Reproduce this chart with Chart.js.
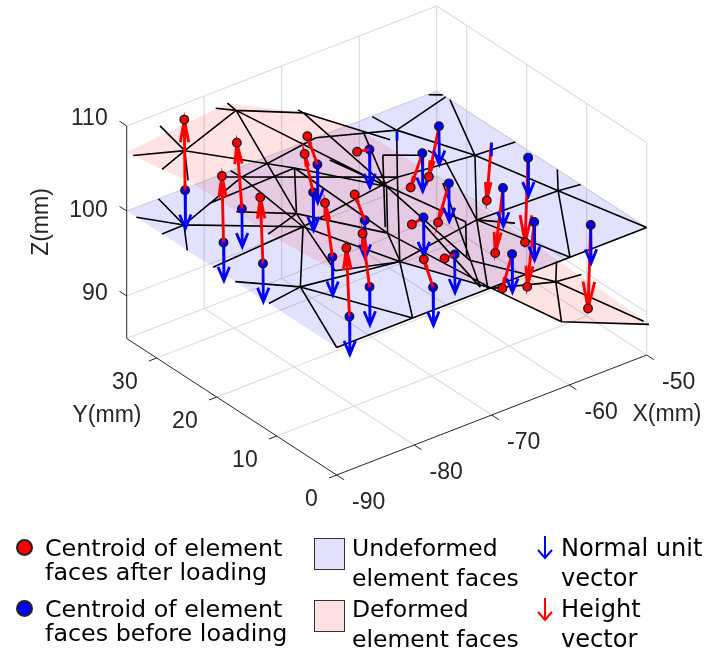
<!DOCTYPE html>
<html>
<head>
<meta charset="utf-8">
<title>Element faces before and after loading</title>
<script src="https://cdn.jsdelivr.net/npm/chart.js@4"></script>
<style>
    body { margin: 0; background: #fff; width: 705px; height: 655px; overflow: hidden; position: relative; }
    canvas { position: absolute; left: 0; top: 0; }
    .leg { position: absolute; font-family: "DejaVu Sans"; color: #000; line-height: 28px; height: 28px; white-space: nowrap; }
    .dot { position: absolute; width: 13px; height: 13px; border-radius: 50%; border: 2px solid #222; }
    .box { position: absolute; width: 29px; height: 30px; border: 1.5px solid #333; }
    svg { position: absolute; }
</style>
</head>
<body>
<canvas id="grafico" width="705" height="655"></canvas>

<div class="dot" style="left:16px;top:539px;background:#f00"></div>
<div class="leg" style="left:45px;top:534px;font-size:23.8px">Centroid of element</div>
<div class="leg" style="left:45px;top:558px;font-size:23.8px">faces after loading</div>
<div class="dot" style="left:16px;top:600px;background:#00f"></div>
<div class="leg" style="left:45px;top:595px;font-size:23.8px">Centroid of element</div>
<div class="leg" style="left:45px;top:619px;font-size:23.8px">faces before loading</div>

<div class="box" style="left:314px;top:538px;background:#e1e1fb"></div>
<div class="leg" style="left:352px;top:534px;font-size:23.5px">Undeformed</div>
<div class="leg" style="left:352px;top:564px;font-size:23.5px">element faces</div>
<div class="box" style="left:314px;top:600px;background:#fde1e1"></div>
<div class="leg" style="left:352px;top:595px;font-size:23.5px">Deformed</div>
<div class="leg" style="left:352px;top:625px;font-size:23.5px">element faces</div>

<svg style="left:535px;top:535px" width="20" height="26"><path d="M10 1V23M3 15L10 23L17 15" fill="none" stroke="#00f" stroke-width="2"/></svg>
<div class="leg" style="left:561px;top:534px;font-size:24.1px">Normal unit</div>
<div class="leg" style="left:561px;top:564px;font-size:24.1px">vector</div>
<svg style="left:535px;top:597px" width="20" height="26"><path d="M10 1V23M3 15L10 23L17 15" fill="none" stroke="#f00" stroke-width="2"/></svg>
<div class="leg" style="left:561px;top:595px;font-size:24.1px">Height</div>
<div class="leg" style="left:561px;top:625px;font-size:24.1px">vector</div>

<script>
// eixos (mm)
const xTicks = [-90, -80, -70, -60, -50];
const yTicks = [0, 10, 20, 30];
const zTicks = [90, 100, 110];
const xLimits = [-90, -50];
const yLimits = [0, 35];
const zLimits = [85, 110];

// centroides antes do carregamento (z = 100)
const beforeX = [-82.7, -80.4, -86.1, -85.5, -68.8, -72.6, -62.7, -71.9, -79.1, -79.8, -85.1, -54.2, -58.9, -60.5, -66.8, -68.9, -74.7, -50.9, -56.7, -58.4, -64.2, -54.2, -52];
const beforeY = [34.7, 28.2, 23.9, 18.1, 30.6, 26.4, 29.8, 18.7, 14.8, 7.7, 4.2, 29.2, 25.9, 19.4, 15.5, 7.6, 3.7, 18.6, 15.3, 7.9, 4.1, 3.9, 23.3];
const beforeZ = 100;
const visibleBefore = 22; // o ultimo fica escondido pela malha

// centroides depois do carregamento
const afterX = [-82.8, -81.05, -86.3, -85.85, -70.1, -73.7, -64.3, -73.2, -80.05, -80.7, -85.5, -55.5, -60.4, -61.9, -68.3, -70.2, -75.9, -51.3, -57.7, -59.3, -65.45, -54.55, -52.6];
const afterY = beforeY;
const afterZ = [108.35, 108, 107.9, 107.9, 103.8, 104.9, 100.3, 103.5, 106.7, 106.6, 108.2, 94.5, 96.5, 95.9, 99.7, 100, 103.7, 90.2, 92.7, 92.7, 96.4, 90.3, 93.4];

const normalLength = 4.5;

// pedacos de normais quase escondidos
const stubX = [-52, -58.3];
const stubY = [23.3, 30.9];
const stubZ = [98.4, 99];

// malha antes do carregamento
const nodesBeforeX = [-87.1, -90, -85.9, -90, -90, -76.5, -65.6, -77.7, -76.6, -78, -63.9, -90, -85.4, -74.2, -90, -80.2, -90, -90, -70.5, -59.9, -50, -62.8, -52.6, -50, -50, -58.1, -54.9, -50, -50, -50, -51.1, -50, -58.4, -60.1];
const nodesBeforeY = [29.2, 33.4, 35, 29.1, 24.9, 33.3, 35, 21.5, 35, 34.5, 23.6, 20.6, 12, 9.9, 16.9, 0, 11.3, 0, 0, 0, 0, 11.8, 11.4, 11, 14.9, 31.2, 22.3, 21.9, 32.8, 33.5, 34.9, 34, 34.9, 8.9];
const edgesBefore = [[0,1],[0,2],[0,3],[0,4],[0,5],[5,6],[0,7],[8,5],[5,7],[9,10],[11,7],[7,10],[7,12],[7,13],[14,12],[12,15],[16,12],[12,13],[12,17],[17,15],[15,18],[18,19],[19,20],[13,15],[13,21],[21,22],[22,23],[24,22],[22,19],[25,26],[26,22],[22,20],[10,26],[26,27],[28,26],[26,21],[21,18],[21,19],[25,29],[30,31],[32,25],[25,10],[10,13],[6,25],[21,33]];

// malha depois do carregamento
const nodesAfterX = [-87, -90.4, -85.7, -90, -89.9, -77.2, -78.9, -77, -67.2, -67.9, -78.8, -85.9, -90.2, -81.8, -70, -61, -49.7, -52.9, -49.9, -50.1, -50.4, -65.3, -74.3, -59.5, -59.1, -90.9, -89.8, -90.1, -70, -70.5, -61.6, -61.2, -72.9, -58.1, -59, -62.8, -63.3, -70.9, -61.6, -71.1, -70.1, -70];
const nodesAfterY = [29.2, 33.4, 35, 29.1, 24.9, 33.3, 34.5, 35, 35, 35, 21.5, 12, 0, 0, 0, 0, 0, 11.4, 11, 14.9, 0, 23.6, 11.8, 35, 31, 20, 17, 11.3, 0, 3, 29, 23, 14, 26, 22, 11.8, 13, 3, 19, 0.5, 11, 27];
const nodesAfterZ = [108.7, 107.4, 108.5, 107.6, 108.2, 108.1, 108.4, 108.1, 103.5, 104.1, 107.3, 108.8, 109.1, 107.2, 99.9, 92.8, 88.5, 89.4, 89.4, 89.2, 89.1, 99.4, 102.5, 98.6, 99.3, 108.1, 108.1, 108.2, 99.9, 102, 99.3, 101.9, 101.7, 100, 101, 100, 99.4, 102.4, 100.6, 100.2, 102.3, 102.6];
const edgesAfter = [[0,1],[0,2],[0,3],[0,4],[0,5],[0,10],[6,5],[7,5],[5,8],[5,11],[5,21],[9,8],[8,21],[8,24],[23,21],[10,11],[25,10],[10,21],[10,22],[26,11],[27,11],[11,22],[11,12],[12,13],[13,14],[14,15],[15,16],[15,17],[14,17],[19,17],[17,18],[17,20],[21,22],[22,13],[22,14],[21,29],[30,31],[30,32],[33,34],[34,35],[36,37],[38,39],[40,39],[41,36],[29,17]];

// contorno das faces deformadas
const outlineAfterX = [-90, -77, -67.2, -59.5, -50, -50, -49.7, -61, -70, -81.8, -90.2, -90.1, -89.8, -89.9, -90];
const outlineAfterY = [35, 35, 35, 35, 35, 0, 0, 0, 0, 0, 0, 11.3, 17, 24.9, 29.1];
const outlineAfterZ = [106.9, 108.1, 103.5, 98.6, 89.9, 88.9, 88.5, 92.8, 99.9, 107.2, 109.1, 108.2, 108.1, 108.2, 107.6];

// o Chart.js reserva essa folga por causa do tamanho dos pontos
const folga = 5.6;

// projecao 3D -> plano do grafico
function projetar(x, y, z) {
    return {
        x: 336.7 + (x + 90) * 7.75 - y * 6,
        y: 475 - (x + 90) * 3 - y * 3.9 - (z - 85) * 8.5
    };
}

function segmentos(lista) {
    const pontos = [];
    lista.forEach(seg => {
        pontos.push(projetar(...seg[0]), projetar(...seg[1]), { x: null, y: null });
    });
    return pontos;
}

function seta(de, para, fracao, largura) {
    const a = projetar(...de);
    const b = projetar(...para);
    const dx = b.x - a.x;
    const dy = b.y - a.y;
    const base = { x: b.x - dx * fracao, y: b.y - dy * fracao };
    // largura null: a cabeca estreita junto com o comprimento da seta
    const w = largura === null ? 0.07 * Math.hypot(dx, dy) / 84 : largura;
    return [
        a, b, { x: null, y: null },
        { x: base.x - dy * w, y: base.y + dx * w }, b,
        { x: base.x + dy * w, y: base.y - dx * w }, { x: null, y: null }
    ];
}

// grade cinza
const grade = [];
xTicks.slice(1, -1).forEach(x => {
    grade.push([[x, yLimits[0], zLimits[0]], [x, yLimits[1], zLimits[0]]]);
});
xTicks.slice(1).forEach(x => {
    grade.push([[x, yLimits[1], zLimits[0]], [x, yLimits[1], zLimits[1]]]);
});
yTicks.slice(1).forEach(y => {
    grade.push([[xLimits[0], y, zLimits[0]], [xLimits[1], y, zLimits[0]]]);
    grade.push([[xLimits[1], y, zLimits[0]], [xLimits[1], y, zLimits[1]]]);
});
grade.push([[xLimits[1], yLimits[0], zLimits[0]], [xLimits[1], yLimits[0], zLimits[1]]]);
zTicks.forEach(z => {
    grade.push([[xLimits[0], yLimits[1], z], [xLimits[1], yLimits[1], z]]);
    grade.push([[xLimits[1], yLimits[1], z], [xLimits[1], yLimits[0], z]]);
});
grade.push([[xLimits[0], yLimits[1], zLimits[0]], [xLimits[1], yLimits[1], zLimits[0]]]);
grade.push([[xLimits[1], yLimits[1], zLimits[0]], [xLimits[1], yLimits[0], zLimits[0]]]);

// eixos escuros
const eixos = [
    [[xLimits[0], yLimits[0], zLimits[0]], [xLimits[1], yLimits[0], zLimits[0]]],
    [[xLimits[0], yLimits[0], zLimits[0]], [xLimits[0], yLimits[1], zLimits[0]]],
    [[xLimits[0], yLimits[1], zLimits[0]], [xLimits[0], yLimits[1], zLimits[1]]]
];
xTicks.forEach(x => eixos.push([[x, yLimits[0], zLimits[0]], [x, yLimits[0] - 1.2, zLimits[0]]]));
yTicks.forEach(y => eixos.push([[xLimits[0], y, zLimits[0]], [xLimits[0] - 1, y, zLimits[0]]]));
zTicks.forEach(z => eixos.push([[xLimits[0], yLimits[1], z], [xLimits[0], yLimits[1] + 1.2, z]]));

const contornoAntes = [[-90, 0], [-50, 0], [-50, 35], [-90, 35], [-90, 0]].map(p => projetar(p[0], p[1], beforeZ));
const contornoDepois = outlineAfterX.map((x, i) => projetar(x, outlineAfterY[i], outlineAfterZ[i]));
contornoDepois.push(contornoDepois[0]);

const malhaAntes = edgesBefore.map(e => [
    [nodesBeforeX[e[0]], nodesBeforeY[e[0]], beforeZ],
    [nodesBeforeX[e[1]], nodesBeforeY[e[1]], beforeZ]
]);
const malhaDepois = edgesAfter.map(e => [
    [nodesAfterX[e[0]], nodesAfterY[e[0]], nodesAfterZ[e[0]]],
    [nodesAfterX[e[1]], nodesAfterY[e[1]], nodesAfterZ[e[1]]]
]);

// setas
const normais = [];
const alturasAcima = [];
const alturasAbaixo = [];
beforeX.forEach((x, i) => {
    const inicio = [x, beforeY[i], beforeZ];
    const fim = [afterX[i], afterY[i], afterZ[i]];
    const pontos = seta(inicio, fim, 0.32, null);
    (afterZ[i] >= beforeZ ? alturasAcima : alturasAbaixo).push(...pontos);
    if (i < visibleBefore) {
        normais.push(...seta(inicio, [x + 0.05, beforeY[i], beforeZ - normalLength], 0.36, 0.15));
    }
});
stubX.forEach((x, i) => {
    normais.push(projetar(x, stubY[i], beforeZ), projetar(x, stubY[i], stubZ[i]), { x: null, y: null });
});

const centrosAntes = beforeX.slice(0, visibleBefore).map((x, i) => projetar(x, beforeY[i], beforeZ));
const centrosDepois = afterX.map((x, i) => projetar(x, afterY[i], afterZ[i]));

function linha(data, cor, largura, order) {
    return { data, borderColor: cor, borderWidth: largura, showLine: true, pointRadius: 0, fill: false, order };
}
function superficie(data, cor, order) {
    return { data, backgroundColor: cor, borderWidth: 0, showLine: true, pointRadius: 0, fill: 'shape', order };
}
function pontos(data, cor, order) {
    return { data, backgroundColor: cor, borderColor: '#1a1a1a', borderWidth: 1.3, pointRadius: 4.3, showLine: false, order };
}

// textos dos eixos
const textosEixos = {
    id: 'textosEixos',
    afterDraw(chart) {
        const ctx = chart.ctx;
        ctx.save();
        ctx.fillStyle = '#262626';
        ctx.font = '23px "Liberation Sans"';
        ctx.textBaseline = 'middle';
        ctx.textAlign = 'center';
        xTicks.forEach(x => {
            const p = projetar(x, yLimits[0], zLimits[0]);
            ctx.fillText(String(x), p.x + 32, p.y + 28);
        });
        ctx.textAlign = 'right';
        yTicks.forEach(y => {
            const p = projetar(xLimits[0], y, zLimits[0]);
            ctx.fillText(String(y), p.x - 19, p.y + 25);
        });
        const ajusteZ = { 90: -2, 100: 0, 110: -7 };
        zTicks.forEach(z => {
            const p = projetar(xLimits[0], yLimits[1], z);
            ctx.fillText(String(z), p.x - 19, p.y + ajusteZ[z]);
        });
        ctx.textAlign = 'center';
        ctx.fillText('Y(mm)', 107, 416);
        ctx.fillText('X(mm)', 667, 415);
        ctx.translate(42, 222);
        ctx.rotate(-Math.PI / 2);
        ctx.fillText('Z(mm)', 0, 0);
        ctx.restore();
    }
};

new Chart(document.getElementById('grafico'), {
    type: 'scatter',
    data: {
        datasets: [
            linha(segmentos(grade), '#dcdcdc', 1.2, 12),
            linha(segmentos(eixos), '#262626', 1, 11),
            superficie(contornoAntes, 'rgba(0,0,255,0.115)', 10),
            superficie(contornoDepois, 'rgba(255,0,0,0.115)', 9),
            linha(segmentos(malhaAntes), '#000', 1.6, 8),
            linha(segmentos(malhaDepois), '#000', 1.6, 7),
            linha(alturasAbaixo, '#f00', 2.9, 6),
            linha(normais, '#00f', 2.8, 5),
            pontos(centrosAntes, '#00f', 4),
            linha(alturasAcima, '#f00', 2.9, 3),
            pontos(centrosDepois, '#f00', 2)
        ]
    },
    options: {
        responsive: false,
        animation: false,
        layout: { padding: 0 },
        plugins: { legend: { display: false }, tooltip: { enabled: false } },
        scales: {
            x: { type: 'linear', min: folga, max: 705 - folga, display: false },
            y: { type: 'linear', min: folga, max: 655 - folga, reverse: true, display: false }
        }
    },
    plugins: [textosEixos]
});
</script>
</body>
</html>
